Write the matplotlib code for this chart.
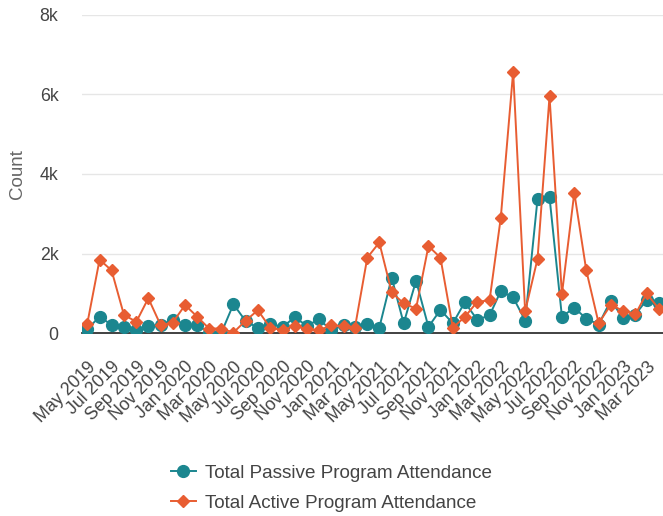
import numpy as np
import pandas as pd
import matplotlib
matplotlib.use("Agg")
import matplotlib.pyplot as plt
import matplotlib.dates as mdates
from matplotlib.transforms import ScaledTranslation

plt.rcParams["font.family"] = ["Liberation Sans", "DejaVu Sans"]

months = pd.date_range("2019-05-01", "2023-04-01", freq="MS")
passive = [100, 420, 210, 150, 90, 190, 200, 340, 220, 200,
           20, 20, 730, 300, 140, 240, 160, 400, 190, 350,
           80, 200, 150, 230, 140, 1400, 250, 1320, 160, 590,
           250, 780, 340, 450, 1060, 900, 320, 3370, 3420, 420,
           640, 370, 220, 820, 390, 470, 840, 750]
active = [230, 1850, 1580, 460, 290, 880, 200, 270, 710, 410,
          120, 120, 20, 320, 580, 140, 80, 190, 100, 80,
          200, 180, 140, 1900, 2280, 1030, 750, 620, 2190, 1900,
          140, 410, 790, 830, 2900, 6570, 550, 1870, 5950, 980,
          3530, 1580, 250, 710, 570, 480, 1000, 610]
y_ticks = [0, 2000, 4000, 6000, 8000]
y_labels = ["0", "2k", "4k", "6k", "8k"]

teal = "#1b868f"
orange = "#e85d32"

fig = plt.figure(figsize=(6.63, 5.16), dpi=100)
ax = fig.add_axes([82 / 663, 1 - 333.3 / 516, 581 / 663, (333.3 - 14.7) / 516])

ax.plot(months, passive, color=teal, lw=1.4, marker="o", ms=8.5,
        label="Total Passive Program Attendance", zorder=3)
ax.plot(months, active, color=orange, lw=1.4, marker="D", ms=6.3,
        label="Total Active Program Attendance", zorder=4)

ax.set_ylim(0, 8000)
ax.set_xlim(months[0] - pd.Timedelta(days=13), months[-1] + pd.Timedelta(days=10))
ax.set_yticks(y_ticks)
ax.set_yticklabels(y_labels)
ax.grid(axis="y", color="#e6e6e6", lw=1)
ax.set_axisbelow(True)
for s in ["top", "right", "left"]:
    ax.spines[s].set_visible(False)
ax.spines["bottom"].set_color("#333333")
ax.spines["bottom"].set_linewidth(1.3)
ax.spines["bottom"].set_zorder(2)

ax.set_xticks(months[::2])
ax.xaxis.set_major_formatter(mdates.DateFormatter("%b %Y"))
ax.tick_params(axis="x", length=0, pad=0, labelsize=12.8, labelcolor="#444444")
ax.tick_params(axis="y", length=0, pad=17, labelsize=12.8, labelcolor="#444444")
off = ScaledTranslation(6 / 100, -31 / 100, fig.dpi_scale_trans)
for lab in ax.get_xticklabels():
    lab.set_rotation(45)
    lab.set_rotation_mode("anchor")
    lab.set_ha("right")
    lab.set_va("center")
    lab.set_transform(lab.get_transform() + off)

ax.set_ylabel("Count", fontsize=13.5, color="#666666", labelpad=10)

fig.legend(loc="center", bbox_to_anchor=(0.5, 1 - 488 / 516), frameon=False,
           fontsize=13.6, handlelength=1.3, handletextpad=0.5, labelspacing=0.68,
           labelcolor="#444444")

fig.savefig("out.png", dpi=100)
